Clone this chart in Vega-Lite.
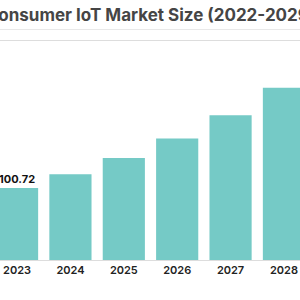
{
  "$schema": "https://vega.github.io/schema/vega-lite/v6.json",
  "autosize": {"type": "none"},
  "width": 427,
  "height": 220,
  "padding": {"left": -63, "right": -64, "top": 40, "bottom": 40},
  "background": "#ffffff",
  "title": {
    "text": "Consumer IoT Market Size (2022-2029)",
    "anchor": "middle",
    "frame": "group",
    "offset": 4,
    "font": "Inter",
    "fontSize": 17,
    "fontWeight": 700,
    "color": "#454545"
  },
  "data": {
    "values": [
      {"year": "2022", "size": 84.6},
      {"year": "2023", "size": 100.72},
      {"year": "2024", "size": 120.0},
      {"year": "2025", "size": 142.8},
      {"year": "2026", "size": 170.1},
      {"year": "2027", "size": 202.5},
      {"year": "2028", "size": 241.2},
      {"year": "2029", "size": 287.2}
    ]
  },
  "encoding": {
    "y": {
      "field": "size",
      "type": "quantitative",
      "scale": {"domain": [0, 308], "nice": false, "zero": true},
      "axis": null
    }
  },
  "resolve": {"axis": {"x": "independent"}},
  "layer": [
    {
      "mark": {"type": "bar", "color": "#75cac6"},
      "encoding": {
        "x": {
          "field": "year",
          "type": "ordinal",
          "scale": {"paddingInner": 0.21, "paddingOuter": 0.105},
          "axis": {
            "title": null,
            "labelAngle": 0,
            "domain": false,
            "ticks": false,
            "labelPadding": 4,
            "labelFont": "Inter",
            "labelFontSize": 11,
            "labelFontWeight": 600,
            "labelColor": "#222222"
          }
        }
      }
    },
    {
      "transform": [{"filter": "datum.year == '2023'"}],
      "mark": {
        "type": "text",
        "baseline": "bottom",
        "dy": -3,
        "font": "Inter",
        "fontSize": 11,
        "fontWeight": 700,
        "color": "#111111"
      },
      "encoding": {
        "x": {
          "field": "year",
          "type": "ordinal",
          "axis": {
            "orient": "top",
            "title": null,
            "labels": false,
            "ticks": false,
            "domain": true,
            "domainColor": "#e8e8e8",
            "domainWidth": 1,
            "offset": 11
          }
        },
        "text": {"field": "size", "type": "quantitative", "format": ".2f"}
      }
    }
  ]
}
